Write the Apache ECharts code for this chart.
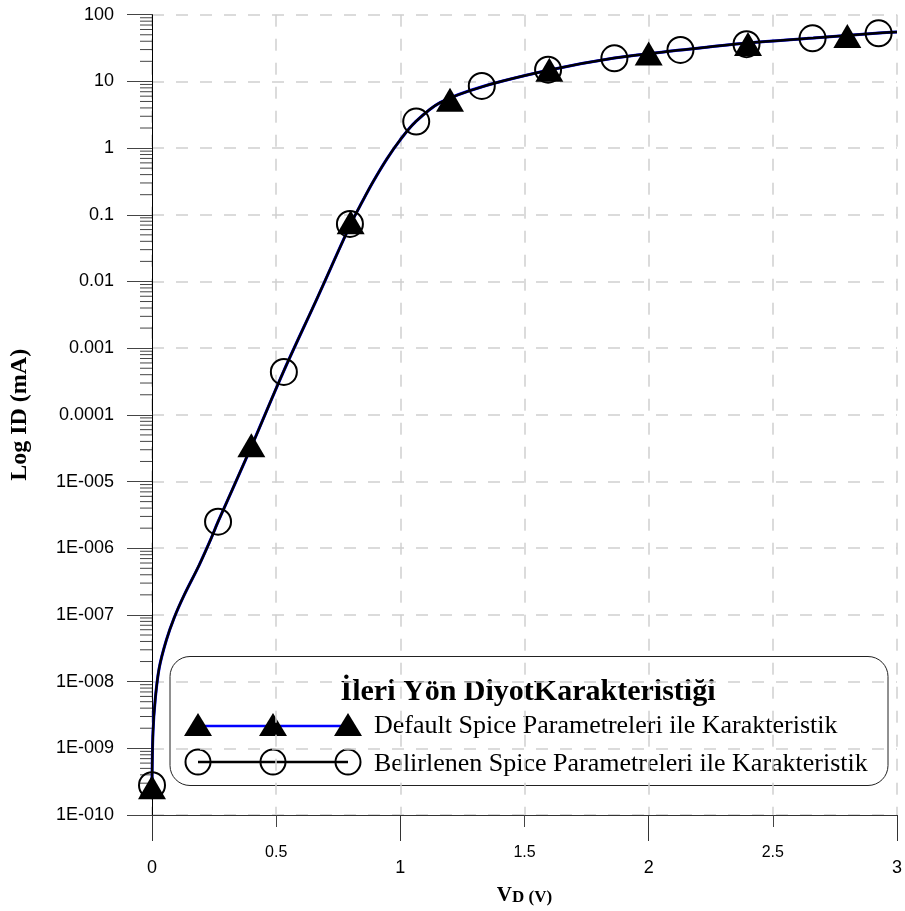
<!DOCTYPE html>
<html>
<head>
<meta charset="utf-8">
<script src="https://cdn.jsdelivr.net/npm/echarts@6/dist/echarts.min.js"></script>
<style>
  html, body { margin: 0; padding: 0; background: #fff; }
  #chart { width: 905px; height: 911px; }
</style>
</head>
<body>
<div id="chart"></div>
<script>
// curve (both series run on top of each other)
const curveVd = [0, 0.004, 0.013, 0.029, 0.057, 0.089, 0.13, 0.19, 0.238, 0.266, 0.398, 0.53, 0.665,
  0.799, 0.847, 0.891, 0.946, 0.999, 1.06, 1.16, 1.329, 1.601, 1.862, 2.13, 2.399, 2.663, 2.928, 3.0];
const curveId = [2.8e-10, 1.74e-9, 5.4e-9, 1.6e-8, 4.1e-8, 9e-8, 2.0e-7, 5.6e-7, 1.4e-6, 2.5e-6, 3.2e-5, 4.5e-4, 5.6e-3,
  0.071, 0.158, 0.316, 0.69, 1.32, 2.45, 4.8, 8.3, 14.8, 22.4, 29.5, 37.7, 44.7, 53.2, 55];

// markers
const defaultVd = [0, 0.4, 0.8, 1.2, 1.6, 2.0, 2.4, 2.8];
const defaultId = [2.6e-10, 3.5e-5, 0.077, 5.3, 15, 26.3, 36.3, 48];
const belirlenenVd = [0, 0.266, 0.531, 0.797, 1.064, 1.328, 1.595, 1.862, 2.128, 2.394, 2.66, 2.926];
const belirlenenId = [2.8e-10, 2.5e-6, 4.4e-4, 0.073, 2.5, 8.55, 15, 22.2, 29.6, 36.1, 44.3, 52.6];

const yTickLabels = ['1E-010', '1E-009', '1E-008', '1E-007', '1E-006', '1E-005',
  '0.0001', '0.001', '0.01', '0.1', '1', '10', '100'];
const xMajorLabels = ['0', '1', '2', '3'];
const xMinorLabels = ['0.5', '1.5', '2.5'];
const legendTitle = 'İleri Yön DiyotKarakteristiği';
const seriesNames = ['Default Spice Parametreleri ile Karakteristik',
  'Belirlenen Spice Parametreleri ile Karakteristik'];

const SERIF = '"Liberation Serif", "DejaVu Serif", serif';
const SANS = '"Liberation Sans", Arial, sans-serif';

// log minor ticks 2..9 in every decade
const minorTicks = [];
for (let k = -10; k < 2; k++) {
  for (let d = 2; d <= 9; d++) minorTicks.push([0, d * Math.pow(10, k)]);
}

const pair = (xs, ys) => xs.map((x, i) => [x, ys[i]]);

// legend drawn by hand (three markers on a line, like the original)
const lgX = [198, 273, 348];
const row1 = 725, row2 = 762;
const legend = [
  { type: 'rect', shape: { x: 170, y: 656.5, width: 718, height: 129, r: 20 },
    style: { fill: 'none', stroke: '#222', lineWidth: 1 } },
  { type: 'text', x: 528, y: 692,
    style: { text: legendTitle, font: 'bold 30px ' + SERIF, fill: '#000', align: 'center', verticalAlign: 'middle' } },
  { type: 'line', shape: { x1: lgX[0], y1: row1 + 1, x2: lgX[2], y2: row1 + 1 },
    style: { stroke: '#0000ff', lineWidth: 2.7 } },
  { type: 'line', shape: { x1: lgX[0], y1: row2, x2: lgX[2], y2: row2 },
    style: { stroke: '#000', lineWidth: 2.7 } },
  { type: 'text', x: 374, y: row1 + 1,
    style: { text: seriesNames[0], font: '26px ' + SERIF, fill: '#000', align: 'left', verticalAlign: 'middle' } },
  { type: 'text', x: 374, y: row2 + 2,
    style: { text: seriesNames[1], font: '26px ' + SERIF, fill: '#000', align: 'left', verticalAlign: 'middle' } }
];
lgX.forEach(cx => {
  legend.push({ type: 'polygon', shape: { points: [[cx - 14, row1 + 11], [cx + 14, row1 + 11], [cx, row1 - 12]] },
    style: { fill: '#000' } });
  legend.push({ type: 'circle', shape: { cx: cx, cy: row2, r: 12.5 },
    style: { fill: 'none', stroke: '#000', lineWidth: 2 } });
});

const chart = echarts.init(document.getElementById('chart'), null, { renderer: 'canvas' });
chart.setOption({
  animation: false,
  backgroundColor: '#fff',
  grid: { left: 150.7, right: 5.5, top: 14.7, bottom: 95.3, containLabel: false },
  xAxis: [
    {
      type: 'value', min: 0, max: 3, interval: 0.5,
      name: '{v|V}{d|D (V)}', nameLocation: 'middle', nameGap: 70,
      nameTextStyle: {
        rich: {
          v: { fontFamily: SERIF, fontWeight: 'bold', fontSize: 21, color: '#000' },
          d: { fontFamily: SERIF, fontWeight: 'bold', fontSize: 17, color: '#000', verticalAlign: 'bottom' }
        }
      },
      axisLine: { show: true, onZero: false, lineStyle: { color: '#333', width: 1 } },
      axisTick: { show: true, length: 12, lineStyle: { color: '#444', width: 1 } },
      axisLabel: {
        margin: 30, fontFamily: SANS, fontSize: 16, color: '#000',
        formatter: v => { const i = xMinorLabels.indexOf(v.toFixed(1)); return i >= 0 ? xMinorLabels[i] : ''; }
      },
      splitLine: { show: true, lineStyle: { color: '#d0d0d0', width: 1.5, type: [12, 12] } }
    },
    {
      type: 'value', min: 0, max: 3, interval: 1, position: 'bottom',
      axisLine: { show: false },
      axisTick: { show: true, length: 26, lineStyle: { color: '#333', width: 1 } },
      axisLabel: {
        margin: 44, fontFamily: SANS, fontSize: 18, color: '#000',
        formatter: v => xMajorLabels[Math.round(v)] || ''
      },
      splitLine: { show: false }
    }
  ],
  yAxis: {
    type: 'log', logBase: 10, min: 1e-10, max: 100, interval: 1, splitNumber: 12,
    name: 'Log ID (mA)', nameLocation: 'middle', nameGap: 120,
    nameTextStyle: { fontFamily: SERIF, fontWeight: 'bold', fontSize: 24, color: '#000' },
    axisLine: { show: true, onZero: false, lineStyle: { color: '#000', width: 1 } },
    axisTick: { show: true, length: 25, lineStyle: { color: '#444', width: 1 } },
    axisLabel: {
      margin: 38, fontFamily: SANS, fontSize: 18, color: '#000',
      formatter: v => yTickLabels[Math.round(Math.log10(v)) + 10] || ''
    },
    splitLine: { show: true, lineStyle: { color: '#d0d0d0', width: 1.5, type: [12, 12] } }
  },
  series: [
    {
      type: 'custom', name: 'minorTicks', silent: true, clip: false,
      renderItem: (params, api) => {
        const p = api.coord([0, api.value(1)]);
        return { type: 'line', shape: { x1: p[0] - 12, y1: p[1], x2: p[0], y2: p[1] },
          style: { stroke: '#444', lineWidth: 1 } };
      },
      data: minorTicks, z: 1
    },
    {
      type: 'line', name: seriesNames[0], data: pair(curveVd, curveId), showSymbol: false,
      smooth: 0.35,
      lineStyle: { color: '#0000ff', width: 3 }, z: 2
    },
    {
      type: 'line', name: seriesNames[1], data: pair(curveVd, curveId), showSymbol: false,
      smooth: 0.35,
      lineStyle: { color: '#000', width: 2.4 }, z: 3
    },
    {
      type: 'scatter', name: seriesNames[1] + ' marker', data: pair(belirlenenVd, belirlenenId),
      symbol: 'circle', symbolSize: 26,
      itemStyle: { color: 'rgba(0,0,0,0)', borderColor: '#000', borderWidth: 2, opacity: 1 }, z: 4
    },
    {
      type: 'scatter', name: seriesNames[0] + ' marker', data: pair(defaultVd, defaultId),
      symbol: 'triangle', symbolSize: [28, 24],
      itemStyle: { color: '#000', opacity: 1 }, z: 5
    }
  ],
  graphic: legend
});
</script>
</body>
</html>
